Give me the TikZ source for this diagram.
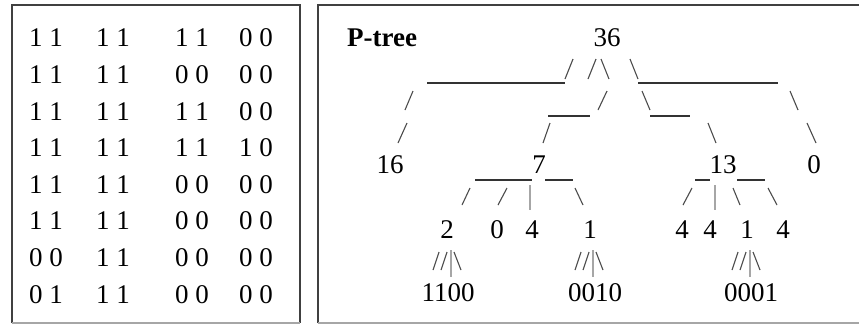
\documentclass[tikz,border=0pt]{standalone}
\usepackage{fontspec}
\setmainfont{Liberation Serif}
\begin{document}
\begin{tikzpicture}[x=1pt,y=-1pt,
  txt/.style={inner sep=0pt,font=\fontsize{27}{32}\selectfont},
  bar/.style={line width=1.5pt,draw=black!80},
  sl/.style={line width=1.1pt,draw=black!70},
  vb/.style={line width=1.2pt,draw=black!35},
  frameline/.style={line width=1.8pt,draw=black!75},
  frameb/.style={line width=1.5pt,draw=black!35}]
\fill[white] (0,0) rectangle (859,325);
\useasboundingbox (0,0) rectangle (859,325);
% frames
\coordinate (L1) at (12,5); \coordinate (L2) at (300,5);
\coordinate (L3) at (300,323); \coordinate (L4) at (12,323);
\draw[frameline] (L4) -- (L1) -- (L2) -- (L3);
\draw[frameb] (L4) -- (L3);
\coordinate (R1) at (318,5); \coordinate (R2) at (865,5);
\coordinate (R3) at (865,323); \coordinate (R4) at (318,323);
\draw[frameline] (R4) -- (R1) -- (R2);
\draw[frameb] (R4) -- (R3);
% matrix
\foreach \r/\a/\b/\c/\d in {1/{1 1}/{1 1}/{1 1}/{0 0},
  2/{1 1}/{1 1}/{0 0}/{0 0}, 3/{1 1}/{1 1}/{1 1}/{0 0},
  4/{1 1}/{1 1}/{1 1}/{1 0}, 5/{1 1}/{1 1}/{0 0}/{0 0},
  6/{1 1}/{1 1}/{0 0}/{0 0}, 7/{0 0}/{1 1}/{0 0}/{0 0},
  8/{0 1}/{1 1}/{0 0}/{0 0}}{
  \pgfmathsetmacro\yy{38+36.6*(\r-1)}
  \node[txt] (m\r a) at (46,\yy) {\a};
  \node[txt] (m\r b) at (113,\yy) {\b};
  \node[txt] (m\r c) at (192,\yy) {\c};
  \node[txt] (m\r d) at (256,\yy) {\d};
}
% tree labels
\node[txt,anchor=west] (ptree) at (347,38) {\textbf{P-tree}};
\node[txt] (n36) at (607,38) {36};
\node[txt] (n16) at (390,165) {16};
\node[txt] (n7) at (539,165) {7};
\node[txt] (n13) at (723,165) {13};
\node[txt] (n0) at (814,165) {0};
\node[txt] (a2) at (447,230) {2};
\node[txt] (a0) at (497,230) {0};
\node[txt] (a4) at (532,230) {4};
\node[txt] (a1) at (590,230) {1};
\node[txt] (b4a) at (682,230) {4};
\node[txt] (b4b) at (710,230) {4};
\node[txt] (b1) at (747,230) {1};
\node[txt] (b4c) at (783,230) {4};
\node[txt] (l1) at (448,293) {1100};
\node[txt] (l2) at (595,293) {0010};
\node[txt] (l3) at (751,293) {0001};
% line A
\draw[bar] (427,83) -- (565,83);
\draw[sl] (565,79) -- (573,59);
\draw[sl] (588,79) -- (596,59);
\draw[sl] (601,59) -- (609,79);
\draw[sl] (630,59) -- (638,79);
\draw[bar] (638,83) -- (778,83);
% line B
\draw[sl] (405,110) -- (413,91);
\draw[bar] (548,116) -- (590,116);
\draw[sl] (598,110) -- (607,91);
\draw[sl] (642,91) -- (650,110);
\draw[bar] (650,116) -- (690,116);
\draw[sl] (790,91) -- (798,110);
% line C
\draw[sl] (398,143) -- (407,123);
\draw[sl] (543,143) -- (550,123);
\draw[sl] (708,123) -- (716,143);
\draw[sl] (807,123) -- (816,143);
% line D underscores
\draw[bar] (475,180) -- (532,180);
\draw[bar] (545,180) -- (573,180);
\draw[bar] (695,180) -- (710,180);
\draw[bar] (737,180) -- (765,180);
% line E
\draw[sl] (462,205) -- (470,188);
\draw[sl] (498,205) -- (507,188);
\draw[vb] (530,185) -- (530,210);
\draw[sl] (575,188) -- (583,205);
\draw[sl] (683,205) -- (692,188);
\draw[vb] (715,185) -- (715,210);
\draw[sl] (733,188) -- (740,205);
\draw[sl] (768,188) -- (777,205);
% line G
\foreach \x in {433,575,732}{
  \draw[sl] (\x,270) -- (\x+6,252);
  \draw[sl] (\x+8,270) -- (\x+14,252);
  \draw[vb] (\x+18,250) -- (\x+18,277);
  \draw[sl] (\x+21,252) -- (\x+28,270);
}
\end{tikzpicture}
\end{document}
